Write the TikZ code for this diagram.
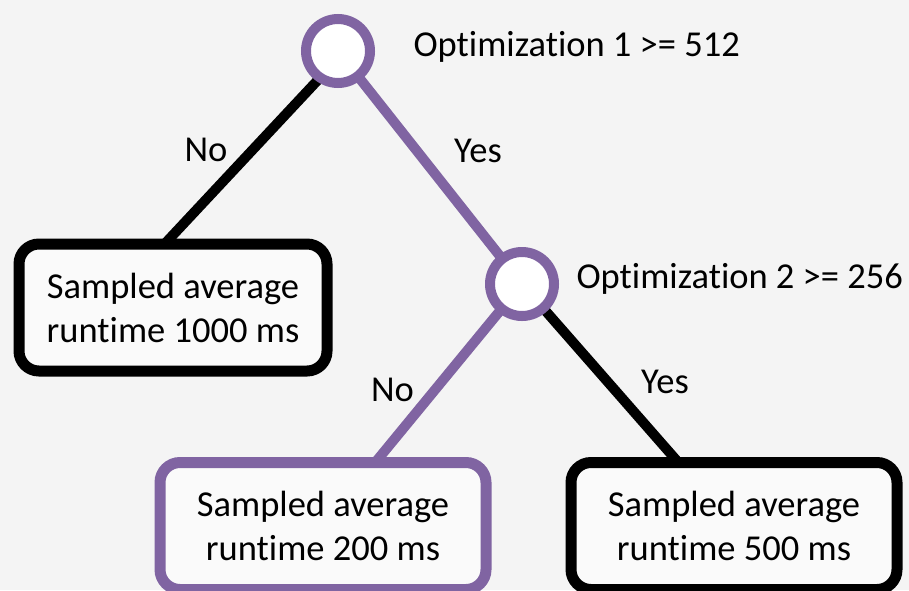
\documentclass[tikz,border=0pt]{standalone}
\usepackage{fontspec}
\setmainfont{Carlito}[Ligatures={NoCommon,NoContextual}]
\usetikzlibrary{positioning}
\pgfdeclarelayer{background}
\pgfsetlayers{background,main}
\definecolor{treepurple}{HTML}{8064A2}
\definecolor{slidegray}{HTML}{F4F4F4}
\definecolor{leaffill}{HTML}{FAFAFA}

\begin{document}
\begin{tikzpicture}[x=1pt,y=-1pt,font=\fontsize{36.5}{44}\selectfont,
  split/.style={circle,draw=treepurple,fill=white,line width=10pt,minimum size=64pt,inner sep=0pt},
  leaf/.style={draw,fill=leaffill,line width=11pt,rounded corners=20pt,align=center,minimum width=326pt,minimum height=127pt},
  branch/.style={line width=10pt}]
   \useasboundingbox (0,0) rectangle (909,590);
   \node (split1) at (338,51) [split] {};
   \node (split2) at (522,284) [split] {};
   \node (cond1) [right=35pt of split1,yshift=4pt] {Optimization 1 >= 512};
   \node (cond2) [right=14pt of split2,yshift=5pt] {Optimization 2 >= 256};
   \node (leaf1) at (173,307.5) [leaf,minimum width=308pt] {Sampled average\\runtime 1000 ms};
   \node (leaf2) at (323,526) [leaf,draw=treepurple] {Sampled average\\runtime 200 ms};
   \node (leaf3) at (734,526) [leaf] {Sampled average\\runtime 500 ms};
   \begin{pgfonlayer}{background}
   \fill[slidegray] (0,0) rectangle (909,590);
   \draw[branch] ([xshift=7pt]split1.center) to node[xshift=-42pt,yshift=5pt] {No} ([xshift=-22pt,yshift=-20pt]leaf1.north);
   \draw[branch,treepurple] (split1.center) to node[black,xshift=48pt,yshift=17pt] {Yes} (split2.center);
   \draw[branch,treepurple] (split2.center) to node[black,xshift=-30pt,yshift=15pt] {No} (leaf2.center);
   \draw[branch] (split2.center) to node[xshift=37pt,yshift=23pt] {Yes} (leaf3.center);
   \end{pgfonlayer}
\end{tikzpicture}
\end{document}
